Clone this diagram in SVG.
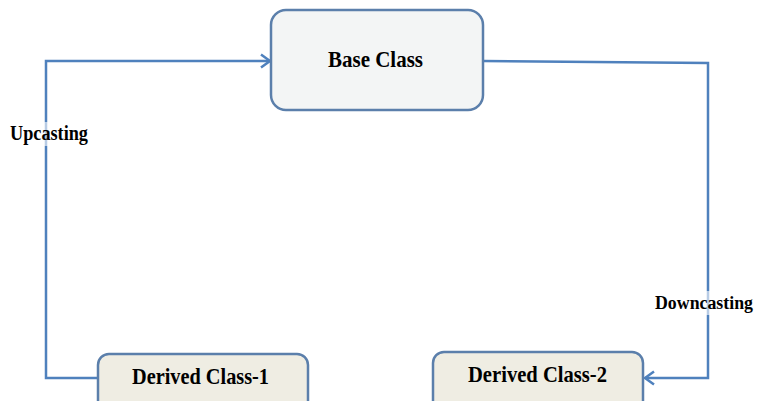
<svg xmlns="http://www.w3.org/2000/svg" width="758" height="401" viewBox="0 0 758 401">
<style>
.box{stroke:#5b7fab;stroke-width:2.5}
.base{fill:#f3f5f5}
.der{fill:#efede3}
.conn{fill:none;stroke:#4f81bd;stroke-width:2.5}
.t{font-family:"Liberation Serif","Times New Roman",serif;font-weight:bold;fill:#000}
.lblbg{fill:#fff;opacity:0.6}
</style>
<defs>
<marker id="arr" markerWidth="14" markerHeight="16" refX="11" refY="8" orient="auto" markerUnits="userSpaceOnUse">
<path d="M2,1.5 L11,8 L2,14.5" fill="none" stroke="#4f81bd" stroke-width="2.5"/>
</marker>
</defs>
<g id="connectors">
<path class="conn" d="M98,378 H46 V61 H270" marker-end="url(#arr)"/>
<path class="conn" d="M483,61 L708,63 V378 H645" marker-end="url(#arr)"/>
</g>
<g id="upcasting-label">
<rect class="lblbg" x="8" y="122" width="82" height="24"/>
<text class="t" x="10" y="140" font-size="20" textLength="78" lengthAdjust="spacingAndGlyphs">Upcasting</text>
</g>
<g id="downcasting-label">
<rect class="lblbg" x="653" y="291" width="101" height="24"/>
<text class="t" x="655" y="309" font-size="18" textLength="98" lengthAdjust="spacingAndGlyphs">Downcasting</text>
</g>
<g id="base-class">
<rect class="box base" x="271" y="10" width="212" height="100" rx="15"/>
<text class="t" x="328" y="67" font-size="23" textLength="95" lengthAdjust="spacingAndGlyphs">Base Class</text>
</g>
<g id="derived-class-1">
<rect class="box der" x="98" y="354" width="210" height="60" rx="11"/>
<text class="t" x="132" y="384" font-size="23" textLength="137" lengthAdjust="spacingAndGlyphs">Derived Class-1</text>
</g>
<g id="derived-class-2">
<rect class="box der" x="433" y="352" width="210" height="60" rx="11"/>
<text class="t" x="468" y="382" font-size="23" textLength="139" lengthAdjust="spacingAndGlyphs">Derived Class-2</text>
</g>
</svg>
